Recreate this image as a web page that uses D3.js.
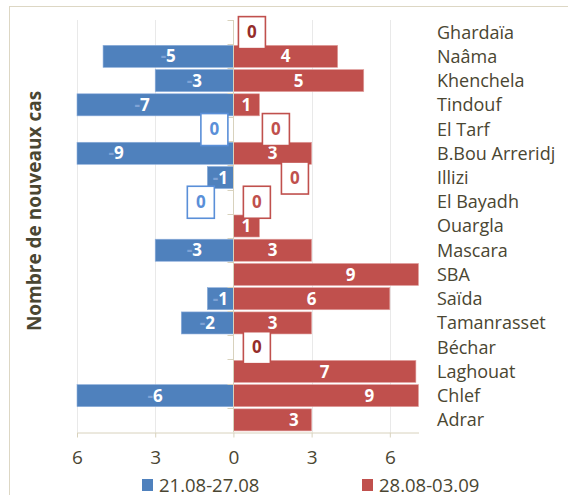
<!DOCTYPE html>
<html>
<head>
<meta charset="utf-8">
<script src="https://cdn.jsdelivr.net/npm/d3@7"></script>
<style>
  body { margin: 0; background: #fff; }
  text { font-family: "Open Sans", sans-serif; }
</style>
</head>
<body>
<div id="chart"></div>
<script>
// Data

const categories = ["Ghardaïa", "Naâma", "Khenchela", "Tindouf", "El Tarf", "B.Bou Arreridj", "Illizi",
  "El Bayadh", "Ouargla", "Mascara", "SBA", "Saïda", "Tamanrasset", "Béchar", "Laghouat", "Chlef", "Adrar"];
const week1 = [null, -5, -3, -7, 0, -9, -1, 0, null, -3, null, -1, -2, null, null, -6, null];
const week2 = [0, 4, 5, 1, 0, 3, 0, 0, 1, 3, 9, 6, 3, 0, 7, 9, 3];
const seriesNames = ["21.08-27.08", "28.08-03.09"];
const tickValues = [-6, -3, 0, 3, 6];

// label placement (value units), as moved by hand in the original
const zeroLabelAt = {
  blue: { "El Tarf": -0.73, "El Bayadh": -1.25 },
  red: { "Ghardaïa": 0.71, "El Tarf": 1.63, "Illizi": 2.36, "El Bayadh": 0.9, "Béchar": 0.9 },
};
const redLabelShift = { "Chlef": 0.72, "Adrar": 0.82 };

// Core chart

const width = 568;
const height = 495;
const blue = "#4f81bd";
const red = "#c0504d";
const textColor = "#4a4632";

const svg = d3.select("#chart").append("svg").attr("width", width).attr("height", height);

svg.append("rect")
  .attr("x", 9.5).attr("y", 6.5)
  .attr("width", 700).attr("height", 700)
  .attr("fill", "#fff")
  .attr("stroke", "#ddd7c4");

const xScale = d3.scaleLinear().domain([-6, 7.1]).range([77, 418.5]);
const yScale = d3.scaleBand().domain(categories).range([20, 432]).paddingInner(0.09).paddingOuter(0.045);
const [xMin, xMax] = xScale.domain();
const clamp = (v) => Math.max(xMin, Math.min(xMax, v));
const rowMid = (c) => yScale(c) + yScale.bandwidth() / 2;

// grid
svg.append("g")
  .selectAll("line")
  .data(tickValues.filter((t) => t !== 0))
  .enter()
  .append("line")
  .attr("x1", (d) => Math.round(xScale(d)) + 0.5)
  .attr("x2", (d) => Math.round(xScale(d)) + 0.5)
  .attr("y1", 20)
  .attr("y2", 432)
  .attr("stroke", "#e9e9e9");

const rows = categories.map((c, i) => ({ c, a: week1[i], b: week2[i] }));

// bars
svg.append("g")
  .selectAll("rect")
  .data(rows.filter((d) => d.a))
  .enter()
  .append("rect")
  .attr("x", (d) => xScale(clamp(d.a)))
  .attr("y", (d) => yScale(d.c))
  .attr("width", (d) => xScale(0) - xScale(clamp(d.a)))
  .attr("height", yScale.bandwidth())
  .attr("fill", blue)
  .attr("stroke", "#8eaedb")
  .attr("stroke-width", 0.6);

svg.append("g")
  .selectAll("rect")
  .data(rows.filter((d) => d.b))
  .enter()
  .append("rect")
  .attr("x", xScale(0))
  .attr("y", (d) => yScale(d.c))
  .attr("width", (d) => xScale(clamp(d.b)) - xScale(0))
  .attr("height", yScale.bandwidth())
  .attr("fill", red)
  .attr("stroke", "#e2a3a1")
  .attr("stroke-width", 0.6);

// zero axis with category ticks
const axisColor = "#d8d2bd";
const x0 = Math.round(xScale(0)) + 0.5;
svg.append("line")
  .attr("x1", x0).attr("x2", x0)
  .attr("y1", 20).attr("y2", 432)
  .attr("stroke", axisColor);
const bounds = categories.map((c) => yScale(c) - (yScale.step() - yScale.bandwidth()) / 2);
svg.append("g")
  .selectAll("line")
  .data(bounds)
  .enter()
  .append("line")
  .attr("x1", x0 - 6).attr("x2", x0)
  .attr("y1", (d) => Math.round(d) + 0.5)
  .attr("y2", (d) => Math.round(d) + 0.5)
  .attr("stroke", axisColor);

// bottom axis
const xAxis = svg.append("g")
  .attr("transform", "translate(0, 432.5)")
  .call(d3.axisBottom(xScale).tickValues(tickValues).tickSize(5).tickSizeOuter(0).tickFormat((d) => Math.abs(d)));
xAxis.select(".domain").attr("stroke", axisColor);
xAxis.selectAll(".tick line").attr("stroke", axisColor);
xAxis.selectAll(".tick text")
  .attr("y", 18)
  .attr("fill", textColor)
  .style("font-size", "19px")
  .style("font-family", "'Open Sans', sans-serif");

// value labels
svg.append("g")
  .selectAll("text")
  .data(rows.filter((d) => d.a))
  .enter()
  .append("text")
  .attr("x", (d) => xScale(d.a / 2))
  .attr("y", (d) => rowMid(d.c))
  .attr("dy", "0.36em")
  .attr("text-anchor", "middle")
  .attr("fill", "#fff")
  .style("font-size", "17px")
  .style("font-weight", "bold")
  .each(function (d) {
    const t = d3.select(this);
    t.append("tspan").attr("fill", "#7fa3d6").text("-");
    t.append("tspan").text(Math.abs(d.a));
  });

svg.append("g")
  .selectAll("text")
  .data(rows.filter((d) => d.b))
  .enter()
  .append("text")
  .attr("x", (d) => xScale(d.b / 2 + (redLabelShift[d.c] || 0)))
  .attr("y", (d) => rowMid(d.c))
  .attr("dy", "0.36em")
  .attr("text-anchor", "middle")
  .attr("fill", "#fff")
  .style("font-size", "17px")
  .style("font-weight", "bold")
  .text((d) => d.b);

// zero labels in boxes
const zeros = [];
rows.forEach((d) => {
  if (d.a === 0) zeros.push({ c: d.c, at: zeroLabelAt.blue[d.c], stroke: "#5a8fd8", fill: "#5a8fd8" });
  if (d.b === 0) {
    const dark = d.c === "Ghardaïa" || d.c === "Béchar";
    zeros.push({ c: d.c, at: zeroLabelAt.red[d.c], stroke: red, fill: dark ? "#952d2a" : red });
  }
});

const boxes = svg.append("g").selectAll("g").data(zeros).enter().append("g")
  .attr("transform", (d) => `translate(${xScale(d.at)}, ${rowMid(d.c)})`);
boxes.append("rect")
  .attr("x", -13.5).attr("y", -15.5)
  .attr("width", 27).attr("height", 32)
  .attr("fill", "#fff")
  .attr("stroke", (d) => d.stroke)
  .attr("stroke-width", 1.6);
boxes.append("text")
  .attr("dy", "0.36em")
  .attr("text-anchor", "middle")
  .attr("fill", (d) => d.fill)
  .style("font-size", "17px")
  .style("font-weight", "bold")
  .text("0");

// category labels
svg.append("g")
  .selectAll("text")
  .data(categories)
  .enter()
  .append("text")
  .attr("x", 437)
  .attr("y", (d) => rowMid(d))
  .attr("dy", "0.36em")
  .attr("fill", textColor)
  .style("font-size", "18px")
  .text((d) => d);

// y title
svg.append("text")
  .attr("transform", "translate(41, 211) rotate(-90)")
  .attr("text-anchor", "middle")
  .attr("fill", textColor)
  .style("font-size", "19px")
  .style("font-weight", "bold")
  .text("Nombre de nouveaux cas");

// legend
const legend = svg.append("g")
  .selectAll("g")
  .data(seriesNames)
  .enter()
  .append("g")
  .attr("transform", (d, i) => `translate(${i === 0 ? 142 : 362}, 479)`);
legend.append("rect")
  .attr("width", 11).attr("height", 12)
  .attr("fill", (d, i) => (i === 0 ? blue : red));
legend.append("text")
  .attr("x", 17).attr("y", 12.5)
  .attr("fill", textColor)
  .style("font-size", "18.5px")
  .text((d) => d);
</script>
</body>
</html>
